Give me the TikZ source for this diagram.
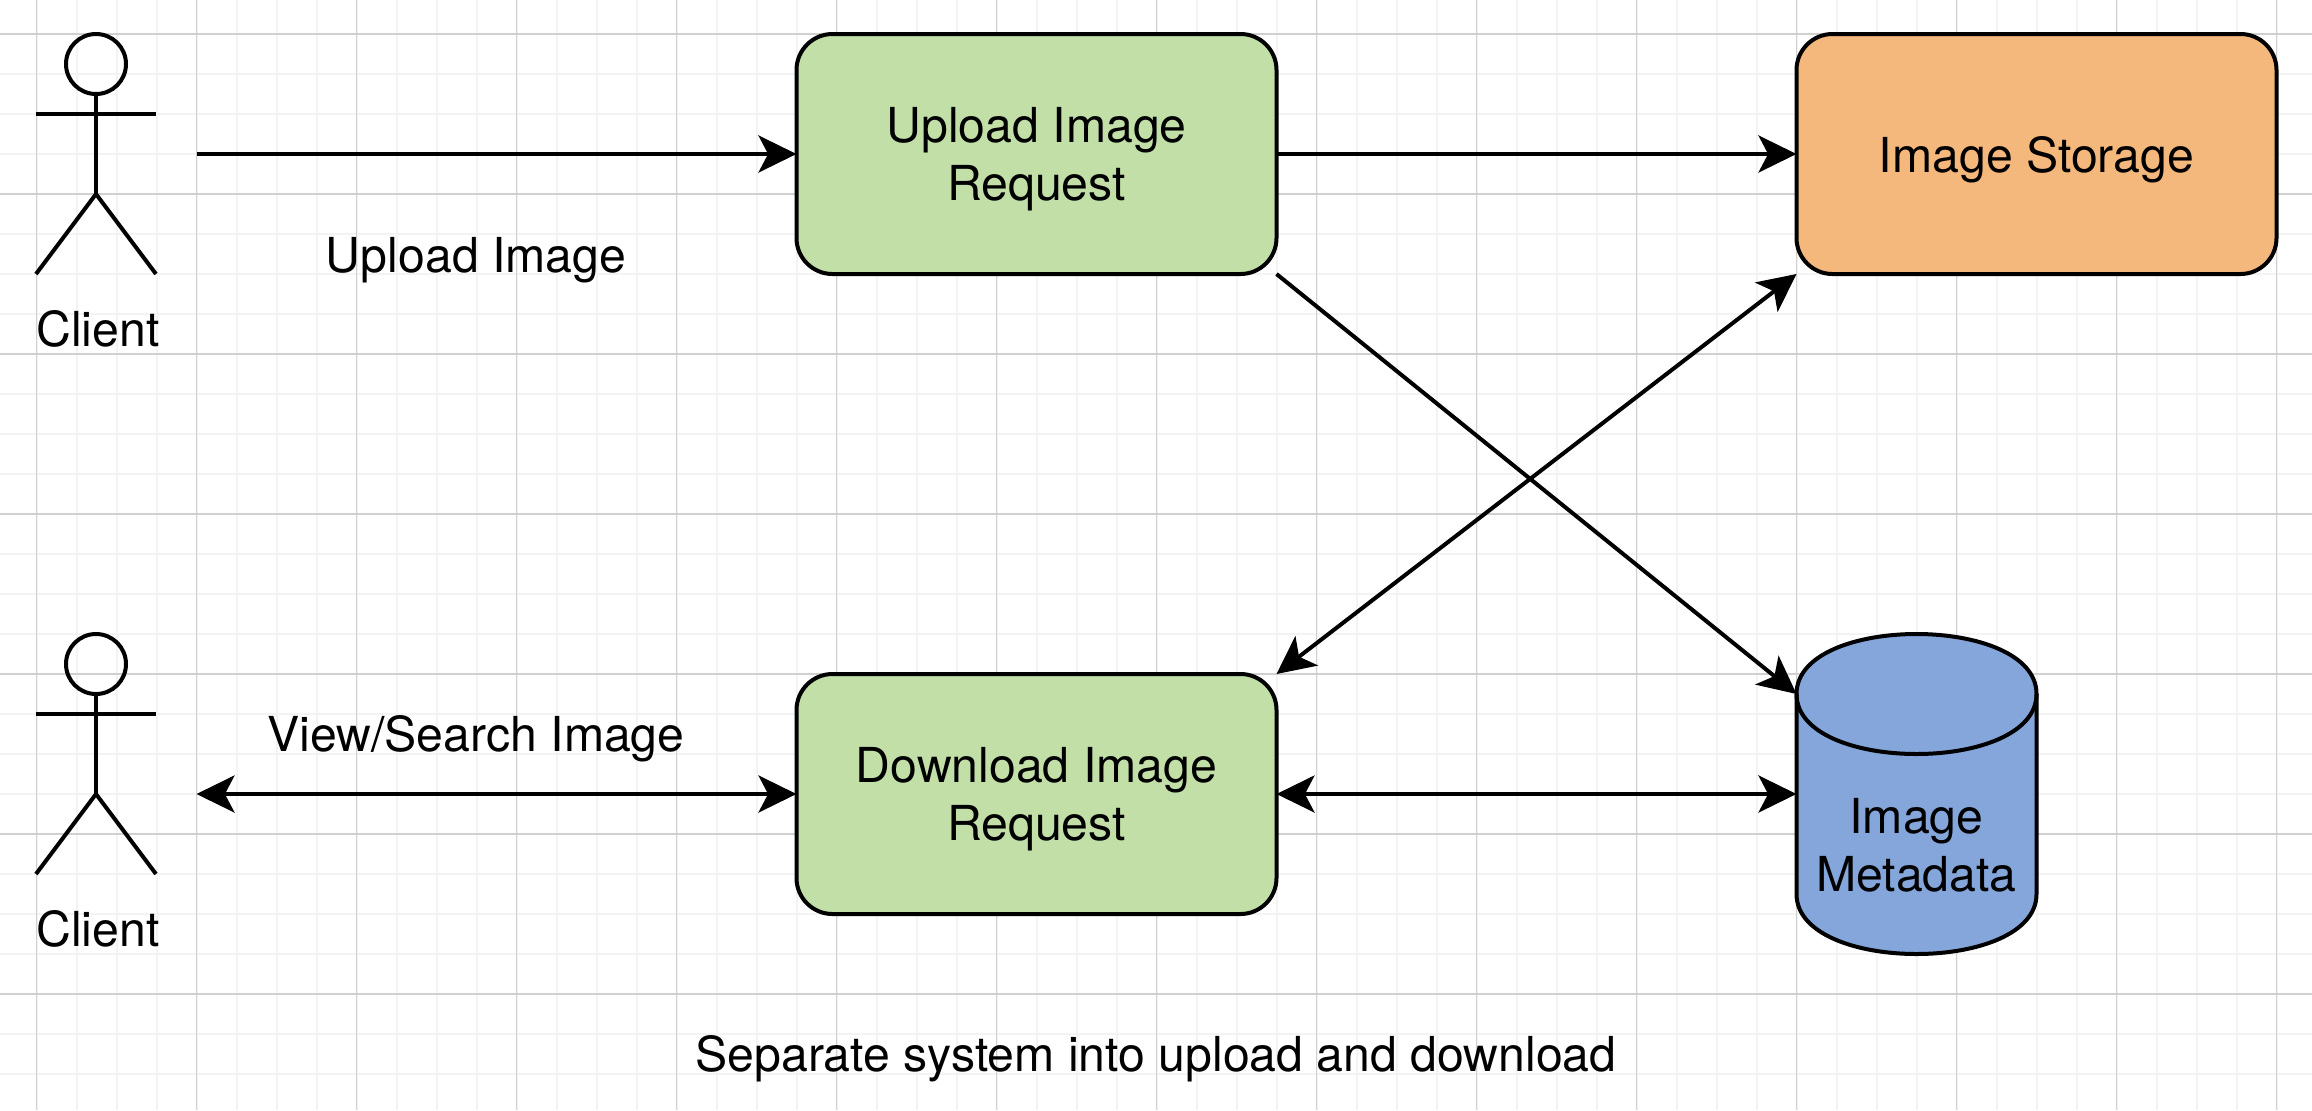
\documentclass[tikz,border=0pt]{standalone}
\usepackage{fontspec}
\setmainfont{TeX Gyre Heros}
\usetikzlibrary{arrows.meta}
\definecolor{gridminor}{HTML}{F3F3F3}
\definecolor{gridmajor}{HTML}{D0D0D0}
\definecolor{boxgreen}{HTML}{C2DFA8}
\definecolor{boxorange}{HTML}{F5B87C}
\definecolor{boxblue}{HTML}{84A6DA}
\tikzset{
  x=0.5pt,y=-0.5pt,
  ln/.style={line width=2pt,draw=black},
  conn/.style={ln,-{Stealth[length=19pt,width=18.5pt,inset=4.8pt]}},
  conn2/.style={ln,{Stealth[length=19pt,width=18.5pt,inset=4.8pt]}-{Stealth[length=19pt,width=18.5pt,inset=4.8pt]}},
  txt/.style={font=\fontsize{24.1}{28.8}\selectfont,align=center,inner sep=0pt,outer sep=0pt,text=black},
  procbox/.style={ln,rounded corners=18pt,minimum width=240pt,minimum height=120pt,inner sep=0pt,outer sep=0pt},
}
\newcommand{\stickman}[3]{%
  \coordinate (#3) at (#1,#2);
  \draw[ln] (#1,#2-30) circle (15pt);
  \draw[ln] (#1,#2) -- (#1,#2+100);
  \draw[ln] (#1-60,#2+20) -- (#1+60,#2+20);
  \draw[ln] (#1-60,#2+180) -- (#1,#2+100) -- (#1+60,#2+180);
}
\begin{document}
\begin{tikzpicture}
\useasboundingbox (0,0) rectangle (2312,1110);
\fill[white] (0,0) rectangle (2312,1110);
% grid
\foreach \i in {0,...,57}{\draw[gridminor,line width=1pt] ({-3.5+40*\i},0) -- ({-3.5+40*\i},1110);}
\foreach \j in {0,...,28}{\draw[gridminor,line width=1pt] (0,{-6+40*\j}) -- (2312,{-6+40*\j});}
\foreach \i in {0,...,14}{\draw[gridmajor,line width=0.8pt] ({36.5+160*\i},0) -- ({36.5+160*\i},1110);}
\foreach \j in {0,...,6}{\draw[gridmajor,line width=0.8pt] (0,{34+160*\j}) -- (2312,{34+160*\j});}
% actors
\stickman{96}{94}{actorA}
\stickman{96}{694}{actorB}
\node[txt] (clientA) at (98,329) {Client};
\node[txt] (clientB) at (98,929) {Client};
\coordinate (clientAport) at (196.5,154);
\coordinate (clientBport) at (196.5,794);
% boxes
\node[procbox,fill=boxgreen] (upload) at (1036.5,154) {};
\node[txt] (uploadtext) at (1036.5,159) {Upload Image\\Request};
\node[procbox,fill=boxgreen] (download) at (1036.5,794) {};
\node[txt] (downloadtext) at (1036.5,799) {Download Image\\Request};
\node[procbox,fill=boxorange] (storage) at (2036.5,154) {};
\node[txt] (storagetext) at (2036.5,160) {Image Storage};
% cylinder
\draw[ln,fill=boxblue] (1796.5,694) .. controls (1796.5,614) and (2036.5,614) .. (2036.5,694)
  -- (2036.5,894) .. controls (2036.5,974) and (1796.5,974) .. (1796.5,894) -- cycle;
\draw[ln] (1796.5,694) .. controls (1796.5,774) and (2036.5,774) .. (2036.5,694);
\node[minimum width=120pt,minimum height=160pt,inner sep=0pt,outer sep=0pt] (meta) at (1916.5,794) {};
\node[txt] (metatext) at (1916.5,845) {Image\\Metadata};
\coordinate (metatop) at (1796.5,694);
% connectors
\draw[conn] (clientAport) -- (upload.west);
\draw[conn] (upload.east) -- (storage.west);
\draw[conn] (upload.south east) -- (metatop);
\draw[conn2] (download.north east) -- (storage.south west);
\draw[conn2] (clientBport) -- (download.west);
\draw[conn2] (download.east) -- (meta.west);
% labels
\node[txt] (lblUp) at (476,260) {Upload Image};
\node[txt] (lblView) at (476,739) {View/Search Image};
\node[txt] (caption) at (1156,1059) {Separate system into upload and download};
\end{tikzpicture}
\end{document}
